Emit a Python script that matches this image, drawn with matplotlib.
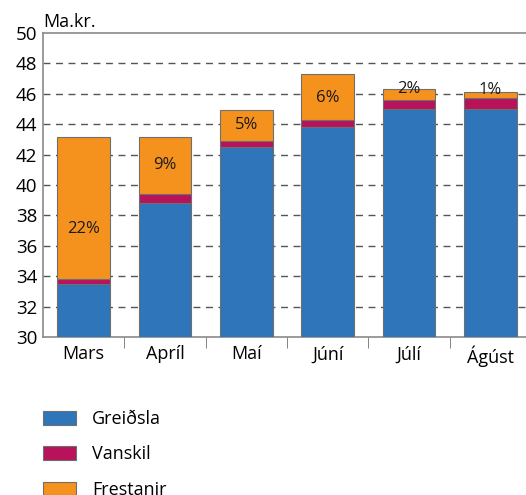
import matplotlib
matplotlib.use("Agg")
import matplotlib.pyplot as plt
import numpy as np

months = ["Mars", "Apríl", "Maí", "Júní", "Júlí", "Ágúst"]
greidsla = [33.5, 38.8, 42.5, 43.8, 45.0, 45.0]
vanskil = [0.3, 0.6, 0.4, 0.5, 0.6, 0.7]
frestanir = [9.35, 3.75, 2.05, 3.0, 0.7, 0.4]
pct_labels = ["22%", "9%", "5%", "6%", "2%", "1%"]

# layout: where the percent labels sit
label_y = [37.1, 41.3, 43.95, 45.75, 46.3, 46.25]

blue = "#2E75B9"
magenta = "#B8125A"
orange = "#F5921E"
edge = "#6f6f6f"

plt.rcParams["font.family"] = ["Open Sans", "DejaVu Sans"]

W, H = 526, 495
fig = plt.figure(figsize=(W / 100, H / 100), dpi=100)
ax = fig.add_axes([43 / W, 1 - 337 / H, (531 - 43) / W, (337 - 33) / H])

x = np.arange(len(months))
bw = 0.65
g = np.array(greidsla)
v = np.array(vanskil)
f = np.array(frestanir)

ax.bar(x, g, bw, bottom=0, color=blue, edgecolor=edge, linewidth=0.8, label="Greiðsla", zorder=3)
ax.bar(x, v, bw, bottom=g, color=magenta, edgecolor=edge, linewidth=0.8, label="Vanskil", zorder=3)
ax.bar(x, f, bw, bottom=g + v, color=orange, edgecolor=edge, linewidth=0.8, label="Frestanir", zorder=3)

for xi, ly, lab in zip(x, label_y, pct_labels):
    ax.text(xi, ly, lab, ha="center", va="center", fontsize=12, color="#1a1a1a", zorder=4)

ax.set_ylim(30, 50)
ax.set_xlim(-0.5, len(months) - 0.5)
ax.set_yticks(range(30, 51, 2))
ax.set_yticklabels([str(t) for t in range(30, 51, 2)], fontsize=13.5)
ax.set_xticks(x)
ax.set_xticklabels(months, fontsize=13)
ax.set_xticks(x[:-1] + 0.5, minor=True)
ax.tick_params(axis="x", which="major", length=0, pad=6)
ax.tick_params(axis="x", which="minor", length=8, direction="out", color=edge)
ax.tick_params(axis="y", length=0, pad=4)

for t in range(32, 50, 2):
    ax.axhline(t, color="#555555", linestyle=(0, (5, 4)), linewidth=1.0, zorder=1)

for s in ax.spines.values():
    s.set_color("#8a8a8a")
    s.set_linewidth(1.2)

fig.text(43 / W, 1 - 27 / H, "Ma.kr.", fontsize=13, ha="left", va="baseline")

handles, labels = ax.get_legend_handles_labels()
fig.legend(handles, labels, loc="upper left", bbox_to_anchor=(36 / W, 1 - 403 / H),
           frameon=False, fontsize=13, handlelength=1.8, handleheight=0.75,
           handletextpad=0.9, labelspacing=0.95, borderaxespad=0)

fig.savefig("out.png", dpi=100)
